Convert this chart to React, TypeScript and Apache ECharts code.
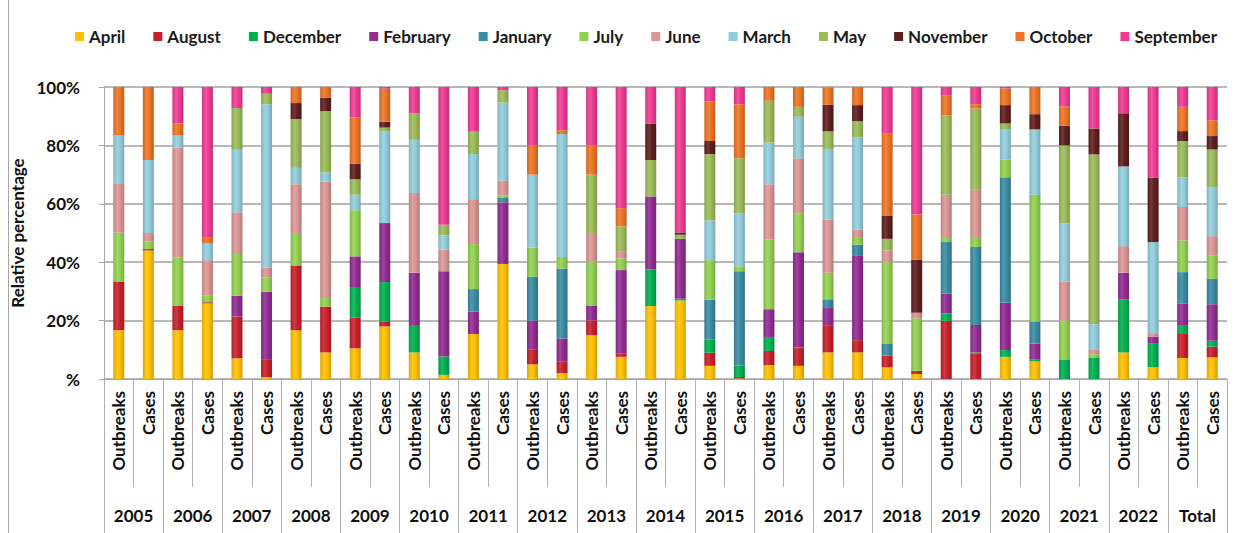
import React, { useEffect, useRef } from "react";
import * as echarts from "echarts";

const barLabels = [
  "Outbreaks","Cases","Outbreaks","Cases","Outbreaks","Cases","Outbreaks","Cases","Outbreaks","Cases",
  "Outbreaks","Cases","Outbreaks","Cases","Outbreaks","Cases","Outbreaks","Cases","Outbreaks","Cases",
  "Outbreaks","Cases","Outbreaks","Cases","Outbreaks","Cases","Outbreaks","Cases","Outbreaks","Cases",
  "Outbreaks","Cases","Outbreaks","Cases","Outbreaks","Cases","Outbreaks","Cases",
];
const years = ["2005","2006","2007","2008","2009","2010","2011","2012","2013","2014","2015","2016","2017","2018","2019","2020","2021","2022","Total"];
const yTicks = [0, 20, 40, 60, 80, 100];

const april = [16.7,44,16.7,25.9,7.1,0.6,16.7,9.1,10.5,18,9.1,1.4,15.4,39.4,5,2,15,7.6,25,26.9,4.5,0.2,4.8,4.5,9.1,9.1,4,1.7,0,0,7.6,6,0,0,9.1,4,7.2,7.4];
const august = [16.7,0.5,8.3,0.4,14.3,6.2,22.2,15.7,10.5,1.7,0,0,0,0,5,3.9,5,1.2,0,0,4.5,0.5,4.8,6.1,9.1,4.2,4,1.1,19.9,8.8,0,0,0,0,0,0,8.5,3.7];
const december = [0,0,0,0,0,0,0,0,10.5,13.5,9.1,6.3,0,0,0,0,0,0,12.5,0.6,4.5,3.8,4.8,0.2,0,0,0,0,2.6,0.3,2.3,0.8,6.7,7.2,18.2,8.3,2.8,2];
const february = [0,0,0,0,7.1,23.1,0,0,10.5,20.2,18.2,29.2,7.7,21.1,10,8,5,28.5,25,20.5,0,0,9.5,32.6,6.1,29.1,0,0,6.8,9.4,16.2,5.3,0,0,9.1,2.2,7.4,12.5];
const january = [0,0,0,0,0,0,0,0,0,0,0,0,7.7,1.5,15,23.9,0,0,0,0,13.6,32.4,0,0,3,3.6,4,0,17.6,26.7,43,7.6,0,0,0,0,10.7,8.7];
const july = [16.7,2.7,16.7,2.4,14.3,4.8,11.1,3.3,15.8,0,0,0,15.4,0.9,10,4,15,4,0,0,13.6,1.7,23.8,13.4,9.1,2.6,28,18,1.4,3.1,6.1,43.4,13.3,1.3,0,0,10.8,8.1];
const june = [16.7,2.8,37.5,12,14.3,3.4,16.7,39.5,0,0,27.3,7.4,15.4,5,0,0,10,2.5,0,0,0,0,19,18.8,18.2,2.5,4,1.9,14.8,16.5,0,0,13.3,1.7,9.1,1.2,11.5,6.5];
const march = [16.6,25,4.2,5.7,21.4,56,5.6,3.1,5.3,31.3,18.2,4.9,15.4,26.8,25,42.1,0,0,0,0,13.6,18.2,14.3,14.2,24.2,31.6,0,0,0,0,10.4,22.1,20,8.6,27.3,31.2,10.2,16.8];
const may = [0,0,0,0,14.3,3.6,16.7,21,5.3,1.4,9.1,3.6,7.7,4.2,0,0,20,8.5,12.5,1.4,22.7,18.8,14.3,3.4,6,5.6,4,0,27.2,27.8,1.9,0.3,26.7,58.1,0,0,12.4,12.9];
const november = [0,0,0,0,0,0,5.5,4.7,5.3,2,0,0,0,0,0,0,0,0,12.5,0.8,4.5,0,0,0,9.1,5.5,8,18.2,0,0,6.3,5.2,6.7,8.9,18.2,22.1,3.4,4.6];
const october = [16.6,25,4.1,2,0,0,5.5,3.6,15.8,11.3,0,0,0,0,10,1.3,10,6.2,0,0,13.6,18.5,4.7,6.8,6,6.2,28,15.4,6.9,1.5,5.7,9.3,6.7,0,0,0,8.3,5.4];
const september = [0,0,12.5,51.6,7.2,2.3,0,0,10.5,0.6,9,47.2,15.3,1.1,20,14.8,20,41.5,12.5,49.8,4.9,5.9,0,0,0,0,16,43.7,2.8,5.9,0.5,0,6.6,14.2,9,31,6.8,11.4];

const monthNames = ["April","August","December","February","January","July","June","March","May","November","October","September"];
const monthData = [april, august, december, february, january, july, june, march, may, november, october, september];
const monthColors = ["#FFC000","#C8202A","#00B050","#912C91","#3A8BA3","#92D050","#DA9694","#92CDDC","#9BBB59","#5E1F1F","#EC7424","#EE3B93"];

const FONT = "Lato, 'DejaVu Sans', sans-serif";

function shade(hex: string, amt: number): string {
  const n = parseInt(hex.slice(1), 16);
  let r = (n >> 16) & 255, g = (n >> 8) & 255, b = n & 255;
  const t = amt < 0 ? 0 : 255;
  const p = Math.abs(amt);
  r = Math.round(r + (t - r) * p);
  g = Math.round(g + (t - g) * p);
  b = Math.round(b + (t - b) * p);
  return "rgb(" + r + "," + g + "," + b + ")";
}

export default function App() {
  const ref = useRef<HTMLDivElement>(null);
  useEffect(() => {
    if (!ref.current) return;
    const chart = echarts.init(ref.current, null, { renderer: "svg" });
    const series = monthNames.map((name, i) => ({
      name,
      type: "bar",
      stack: "total",
      barWidth: 11,
      xAxisIndex: 0,
      data: monthData[i],
      itemStyle: {
        color: new echarts.graphic.LinearGradient(0, 0, 1, 0, [
          { offset: 0, color: shade(monthColors[i], -0.12) },
          { offset: 0.35, color: shade(monthColors[i], 0.12) },
          { offset: 0.6, color: monthColors[i] },
          { offset: 1, color: shade(monthColors[i], -0.18) },
        ]),
      },
    }));
    chart.setOption({
      animation: false,
      backgroundColor: "#ffffff",
      color: monthColors,
      legend: {
        top: 28,
        left: 75,
        width: 1160,
        padding: 0,
        icon: "rect",
        itemWidth: 9,
        itemHeight: 9,
        itemGap: 28,
        data: monthNames.map((n, i) => ({ name: n, itemStyle: { color: monthColors[i] } })),
        textStyle: { fontFamily: FONT, fontWeight: "bold", fontSize: 17, color: "#1a1a1a" },
      },
      grid: { left: 104, right: 8, top: 87, bottom: 154, containLabel: false },
      xAxis: [
        {
          type: "category",
          data: barLabels,
          position: "bottom",
          axisLine: { show: true, lineStyle: { color: "#a6a6a6", width: 1 } },
          axisTick: { show: true, interval: 0, length: 108, lineStyle: { color: "#b0b0b0" } },
          axisLabel: {
            interval: 0,
            rotate: 90,
            margin: 12,
            fontFamily: FONT,
            fontWeight: "bold",
            fontSize: 17,
            color: "#111",
          },
        },
        {
          type: "category",
          data: years,
          position: "bottom",
          axisLine: { show: false },
          axisTick: { show: true, interval: 0, length: 155, lineStyle: { color: "#b0b0b0" } },
          axisLabel: {
            interval: 0,
            margin: 128,
            fontFamily: FONT,
            fontWeight: "bold",
            fontSize: 17,
            color: "#111",
          },
        },
      ],
      yAxis: {
        type: "value",
        min: yTicks[0],
        max: yTicks[yTicks.length - 1],
        interval: 20,
        name: "Relative percentage",
        nameLocation: "middle",
        nameGap: 66,
        nameTextStyle: { fontFamily: FONT, fontWeight: "bold", fontSize: 17, color: "#111" },
        axisLine: { show: true, lineStyle: { color: "#a6a6a6" } },
        axisTick: { show: true, length: 5, lineStyle: { color: "#a6a6a6" } },
        splitLine: { show: true, lineStyle: { color: "#a0a0a0", width: 1.5 } },
        axisLabel: {
          margin: 24,
          fontFamily: FONT,
          fontWeight: "bold",
          fontSize: 17,
          color: "#111",
          formatter: (v: number) => (v === 0 ? "%" : v + "%"),
        },
      },
      graphic: [
        { type: "line", shape: { x1: 8.5, y1: 0, x2: 8.5, y2: 533 }, style: { stroke: "#a6a6a6", lineWidth: 1 } },
      ],
      series,
    });
    return () => chart.dispose();
  }, []);
  return (
    <div
      ref={ref}
      style={{ position: "absolute", left: 0, top: 0, width: 1235, height: 533 }}
    />
  );
}
